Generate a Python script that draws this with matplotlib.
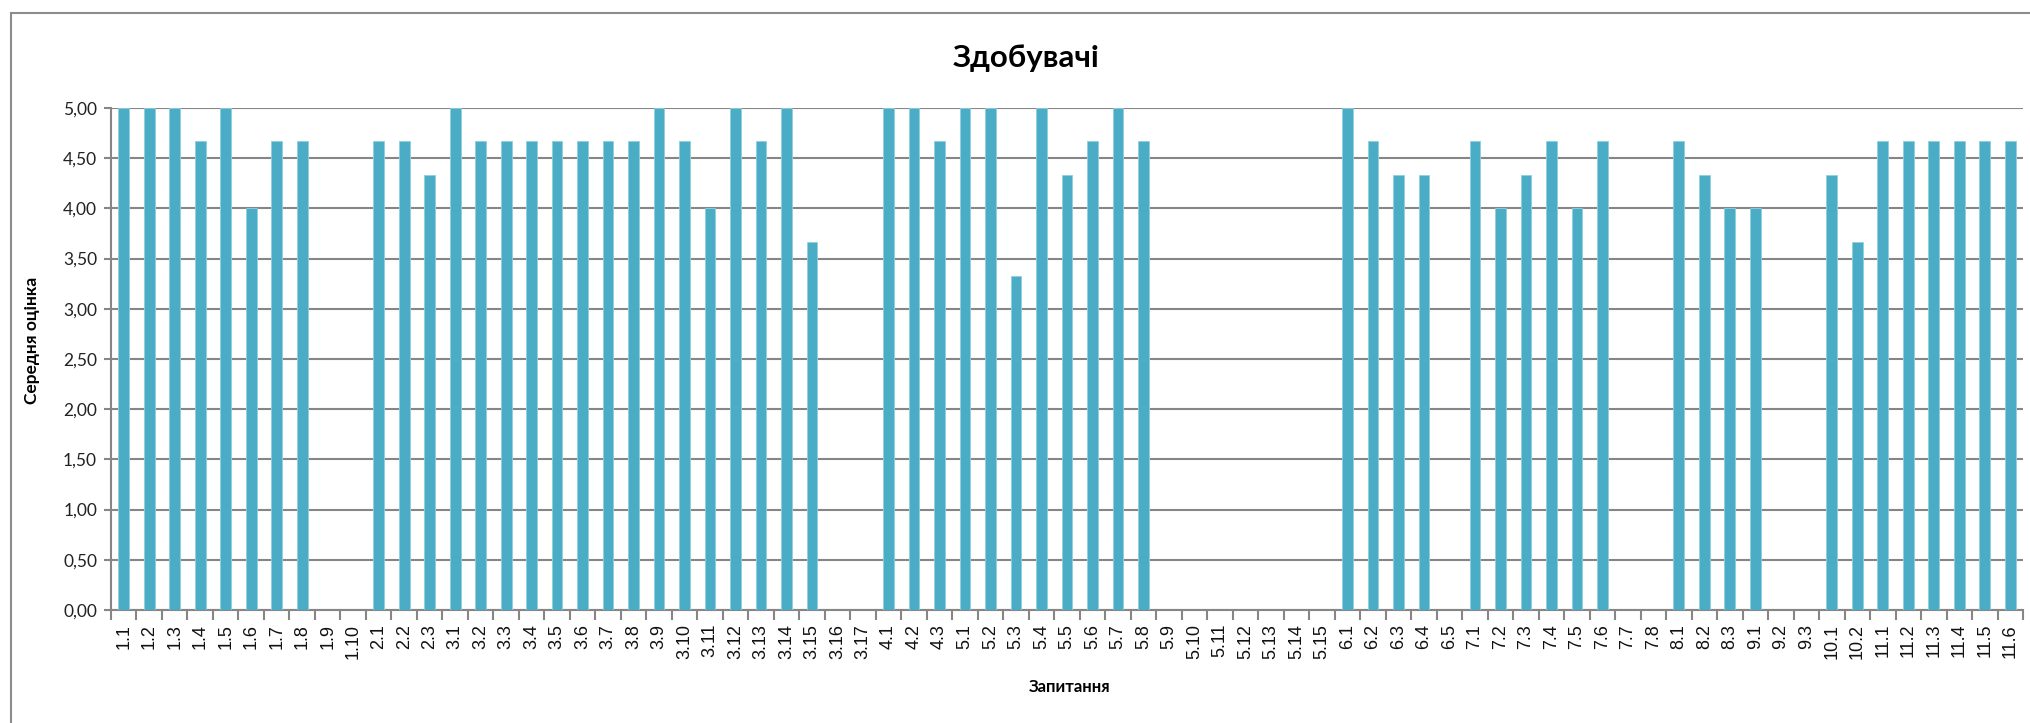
import matplotlib
matplotlib.use("Agg")
import matplotlib.pyplot as plt
from matplotlib.patches import Rectangle

categories = (
    [f"1.{i}" for i in range(1, 11)] +
    [f"2.{i}" for i in range(1, 4)] +
    [f"3.{i}" for i in range(1, 18)] +
    [f"4.{i}" for i in range(1, 4)] +
    [f"5.{i}" for i in range(1, 16)] +
    [f"6.{i}" for i in range(1, 6)] +
    [f"7.{i}" for i in range(1, 9)] +
    [f"8.{i}" for i in range(1, 4)] +
    [f"9.{i}" for i in range(1, 4)] +
    [f"10.{i}" for i in range(1, 3)] +
    [f"11.{i}" for i in range(1, 7)]
)

values = [
    5.00, 5.00, 5.00, 4.67, 5.00, 4.00, 4.67, 4.67, 0, 0,            # 1
    4.67, 4.67, 4.33,                                                # 2
    5.00, 4.67, 4.67, 4.67, 4.67, 4.67, 4.67, 4.67, 5.00, 4.67,      # 3.1-3.10
    4.00, 5.00, 4.67, 5.00, 3.67, 0, 0,                              # 3.11-3.17
    5.00, 5.00, 4.67,                                                # 4
    5.00, 5.00, 3.33, 5.00, 4.33, 4.67, 5.00, 4.67,                  # 5.1-5.8
    0, 0, 0, 0, 0, 0, 0,                                             # 5.9-5.15
    5.00, 4.67, 4.33, 4.33, 0,                                       # 6
    4.67, 4.00, 4.33, 4.67, 4.00, 4.67, 0, 0,                        # 7
    4.67, 4.33, 4.00,                                                # 8
    4.00, 0, 0,                                                      # 9
    4.33, 3.67,                                                      # 10
    4.67, 4.67, 4.67, 4.67, 4.67, 4.67,                              # 11
]

yticks = [0, 0.5, 1.0, 1.5, 2.0, 2.5, 3.0, 3.5, 4.0, 4.5, 5.0]
title = "Здобувачі"
xlabel = "Запитання"
ylabel = "Середня оцінка"

W, H = 2031, 723
fig = plt.figure(figsize=(W / 100, H / 100), dpi=100)
fig.patch.set_facecolor("white")

# outer chart border
fig.add_artist(Rectangle((11 / W, -0.05), 1.1, 1 - 13 / H + 0.05,
                         transform=fig.transFigure, fill=False,
                         edgecolor="#8c8c8c", linewidth=1.5))

left, right, top, bottom = 111, 2023, 108, 610
ax = fig.add_axes([left / W, 1 - bottom / H, (right - left) / W, (bottom - top) / H])

x = list(range(len(categories)))
ax.bar(x, values, width=0.42, color="#4BACC6", edgecolor="#8fd0e0",
       linewidth=0.6, zorder=3)

ax.set_xlim(-0.5, len(categories) - 0.5)
ax.set_ylim(0, 5)
ax.set_yticks(yticks)
ax.set_yticklabels([f"{v:.2f}".replace(".", ",") for v in yticks],
                   fontfamily="Lato", fontsize=12.5, color="#222222")
ax.yaxis.grid(True, color="#868686", linewidth=1.5, zorder=0)
ax.set_axisbelow(True)

ax.set_xticks(x)
ax.set_xticklabels(categories, rotation=90, fontfamily="Liberation Sans",
                   fontsize=13, color="#111111")
ax.set_xticks([i - 0.5 for i in range(len(categories) + 1)], minor=True)
ax.tick_params(axis="x", which="major", length=0, pad=10)
ax.tick_params(axis="x", which="minor", length=7, width=1.5, color="#868686")
ax.tick_params(axis="y", length=5, width=1.5, color="#868686", pad=5)

for s in ["top", "right"]:
    ax.spines[s].set_visible(False)
ax.spines["left"].set_color("#868686")
ax.spines["left"].set_linewidth(1.5)
ax.spines["bottom"].set_color("#868686")
ax.spines["bottom"].set_linewidth(1.5)

fig.text(1026 / W, 1 - 58 / H, title, ha="center", va="center",
         fontfamily="Lato", fontweight="bold", fontsize=22.5, color="#000000")
fig.text(1070 / W, 1 - 687 / H, xlabel, ha="center", va="center",
         fontfamily="Lato", fontweight="bold", fontsize=12, color="#000000")
fig.text(32 / W, 1 - 340 / H, ylabel, ha="center", va="center", rotation=90,
         fontfamily="Lato", fontweight="bold", fontsize=12.5, color="#000000")

fig.savefig("out.png", dpi=100)
